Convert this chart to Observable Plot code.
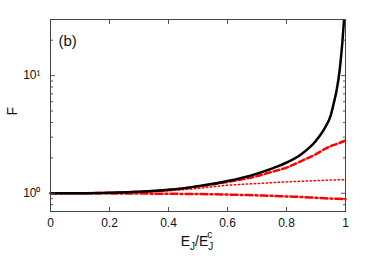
<!DOCTYPE html>
<html><head><meta charset="utf-8">
<script src="https://cdn.jsdelivr.net/npm/d3@7"></script>
<script src="https://cdn.jsdelivr.net/npm/@observablehq/plot@0.6"></script>
<style>body{margin:0;background:#fff}#chart{width:382px;height:256px;position:relative}</style>
</head><body><div id="chart"></div>
<script>
// Black solid curve
const xBlack = [0, 0.1, 0.2, 0.3, 0.4, 0.5, 0.6, 0.7, 0.75, 0.8, 0.85, 0.9, 0.93, 0.95, 0.96, 0.97, 0.98, 0.985, 0.99, 0.995, 0.998];
const fBlack = [1.0, 1.0, 1.01, 1.03, 1.07, 1.15, 1.27, 1.47, 1.62, 1.82, 2.15, 2.8, 3.6, 4.6, 5.8, 7.5, 11, 14.5, 20, 30, 40];
// Red curves
const xRed = [0, 0.1, 0.2, 0.3, 0.4, 0.5, 0.6, 0.7, 0.75, 0.8, 0.85, 0.9, 0.93, 0.95, 0.97, 0.99, 1.0];
const fDashed = [1.0, 1.0, 1.01, 1.03, 1.065, 1.14, 1.25, 1.40, 1.52, 1.65, 1.88, 2.15, 2.38, 2.52, 2.62, 2.74, 2.81];
const fDotted = [1.0, 1.0, 1.005, 1.02, 1.05, 1.1, 1.17, 1.21, 1.23, 1.25, 1.265, 1.28, 1.29, 1.295, 1.30, 1.30, 1.30];
const fDashDot = [1.0, 1.0, 0.998, 0.995, 0.99, 0.985, 0.975, 0.96, 0.952, 0.94, 0.93, 0.915, 0.907, 0.902, 0.897, 0.892, 0.89];
const xTicks = [0, 0.2, 0.4, 0.6, 0.8, 1];
const yMajor = [1, 10];
const yMajorLabels = ["10\u2070", "10\u00b9"];
const yMinor = [0.7, 0.8, 0.9, 2, 3, 4, 5, 6, 7, 8, 9, 20, 30];

const black = xBlack.map((x, i) => ({x, f: fBlack[i]}));
const dashed = xRed.map((x, i) => ({x, f: fDashed[i]}));
const dotted = xRed.map((x, i) => ({x, f: fDotted[i]}));
const dashdot = xRed.map((x, i) => ({x, f: fDashDot[i]}));

const font = "'Liberation Sans', Arial, sans-serif";
const plot = Plot.plot({
  width: 382, height: 256,
  marginLeft: 50, marginRight: 37, marginTop: 19, marginBottom: 45,
  style: {fontFamily: font, fontSize: "12px", background: "#fff", color: "#111"},
  x: {domain: [0, 1], label: null},
  y: {type: "log", domain: [0.7, 30], label: null},
  marks: [
    Plot.line(dashdot, {x: "x", y: "f", stroke: "#ff0000", strokeWidth: 2.5, strokeDasharray: "7,3,2,3", curve: "monotone-x"}),
    Plot.line(dotted, {x: "x", y: "f", stroke: "#ff0000", strokeWidth: 1.5, strokeDasharray: "1.5,2.5", curve: "monotone-x"}),
    Plot.line(dashed, {x: "x", y: "f", stroke: "#ff0000", strokeWidth: 2.5, strokeDasharray: "6,3", curve: "monotone-x"}),
    Plot.line(black, {x: "x", y: "f", stroke: "#000", strokeWidth: 2.5, curve: "monotone-x", clip: true}),
    Plot.axisX({ticks: xTicks, anchor: "bottom", tickSize: -4, tickPadding: 11, tickFormat: d => String(d), label: null, stroke: "#555"}),
    Plot.axisX({ticks: xTicks, anchor: "top", tickSize: -4, tickFormat: () => "", label: null, stroke: "#555"}),
    Plot.axisY({ticks: yMajor, anchor: "left", tickSize: -5, tickPadding: 15, tickFormat: d => yMajorLabels[yMajor.indexOf(d)], label: null, stroke: "#555"}),
    Plot.axisY({ticks: yMajor, anchor: "right", tickSize: -5, tickFormat: () => "", label: null, stroke: "#555"}),
    Plot.axisY({ticks: yMinor, anchor: "left", tickSize: -3, tickFormat: () => "", label: null, stroke: "#555"}),
    Plot.axisY({ticks: yMinor, anchor: "right", tickSize: -3, tickFormat: () => "", label: null, stroke: "#555"}),
    Plot.frame({stroke: "#444"}),
    Plot.text(["(b)"], {frameAnchor: "top-left", dx: 8, dy: 16, fontSize: 15, text: d => d}),
    Plot.text(["F"], {frameAnchor: "left", dx: -38, rotate: -90, fontSize: 14, text: d => d})
  ]
});
document.getElementById("chart").appendChild(plot);
// x-axis label with sub/superscripts
const svg = d3.select(plot);
const t = svg.append("text")
  .attr("x", 197).attr("y", 246)
  .attr("text-anchor", "middle")
  .attr("font-size", 14).attr("font-family", font).attr("fill", "#111");
t.append("tspan").text("E");
t.append("tspan").attr("dy", 4).attr("font-size", 10).text("J");
t.append("tspan").attr("dy", -4).text("/E");
t.append("tspan").attr("dy", 4).attr("font-size", 10).text("J");
t.append("tspan").attr("dx", -6).attr("dy", -12).attr("font-size", 10).text("c");
</script>
</body></html>
